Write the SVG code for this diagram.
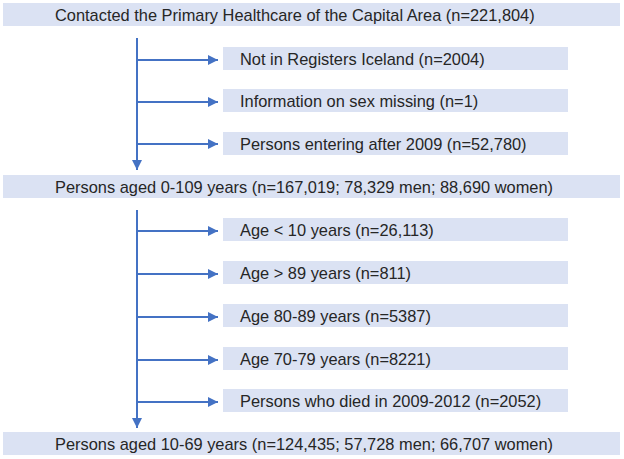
<svg xmlns="http://www.w3.org/2000/svg" width="624" height="459" viewBox="0 0 624 459">
<style>
.box{fill:#dbe2f3;}
.t{font-family:"Liberation Sans",Arial,sans-serif;font-size:16.4px;fill:#262626;}
.c{stroke:#4472c4;stroke-width:2;fill:none;}
</style>
<defs>
<marker id="ah" viewBox="0 0 10 10" refX="10" refY="5" markerWidth="5" markerHeight="5" orient="auto" markerUnits="strokeWidth">
<path d="M0,0 L10,5 L0,10 z" fill="#4472c4"/>
</marker>
</defs>
<rect width="624" height="459" fill="#ffffff"/>
<g id="connectors">
<path class="c" d="M137,38 V170" marker-end="url(#ah)"/>
<path class="c" d="M137,60 H218" marker-end="url(#ah)"/>
<path class="c" d="M137,102 H218" marker-end="url(#ah)"/>
<path class="c" d="M137,144 H218" marker-end="url(#ah)"/>
<path class="c" d="M137,210 V428" marker-end="url(#ah)"/>
<path class="c" d="M137,231 H218" marker-end="url(#ah)"/>
<path class="c" d="M137,274 H218" marker-end="url(#ah)"/>
<path class="c" d="M137,317 H218" marker-end="url(#ah)"/>
<path class="c" d="M137,360 H218" marker-end="url(#ah)"/>
<path class="c" d="M137,402 H218" marker-end="url(#ah)"/>
</g>
<g id="n1"><rect class="box" x="3" y="3" width="617" height="23"/><text class="t" x="55" y="21">Contacted the Primary Healthcare of the Capital Area (n=221,804)</text></g>
<g id="n2"><rect class="box" x="223" y="47" width="345" height="23"/><text class="t" x="240" y="64.5">Not in Registers Iceland (n=2004)</text></g>
<g id="n3"><rect class="box" x="223" y="89" width="345" height="23"/><text class="t" x="240" y="106.5">Information on sex missing (n=1)</text></g>
<g id="n4"><rect class="box" x="223" y="132" width="345" height="23"/><text class="t" x="240" y="149.5">Persons entering after 2009 (n=52,780)</text></g>
<g id="n5"><rect class="box" x="3" y="175" width="617" height="23"/><text class="t" x="55" y="192.5">Persons aged 0-109 years (n=167,019; 78,329 men; 88,690 women)</text></g>
<g id="n6"><rect class="box" x="223" y="218" width="345" height="23"/><text class="t" x="240" y="235.5">Age &lt; 10 years (n=26,113)</text></g>
<g id="n7"><rect class="box" x="223" y="261" width="345" height="23"/><text class="t" x="240" y="278.5">Age &gt; 89 years (n=811)</text></g>
<g id="n8"><rect class="box" x="223" y="304" width="345" height="23"/><text class="t" x="240" y="321.5">Age 80-89 years (n=5387)</text></g>
<g id="n9"><rect class="box" x="223" y="347" width="345" height="23"/><text class="t" x="240" y="364.5">Age 70-79 years (n=8221)</text></g>
<g id="n10"><rect class="box" x="223" y="389" width="345" height="23"/><text class="t" x="240" y="406.5">Persons who died in 2009-2012 (n=2052)</text></g>
<g id="n11"><rect class="box" x="3" y="432" width="617" height="23"/><text class="t" x="55" y="449.5">Persons aged 10-69 years (n=124,435; 57,728 men; 66,707 women)</text></g>
</svg>
